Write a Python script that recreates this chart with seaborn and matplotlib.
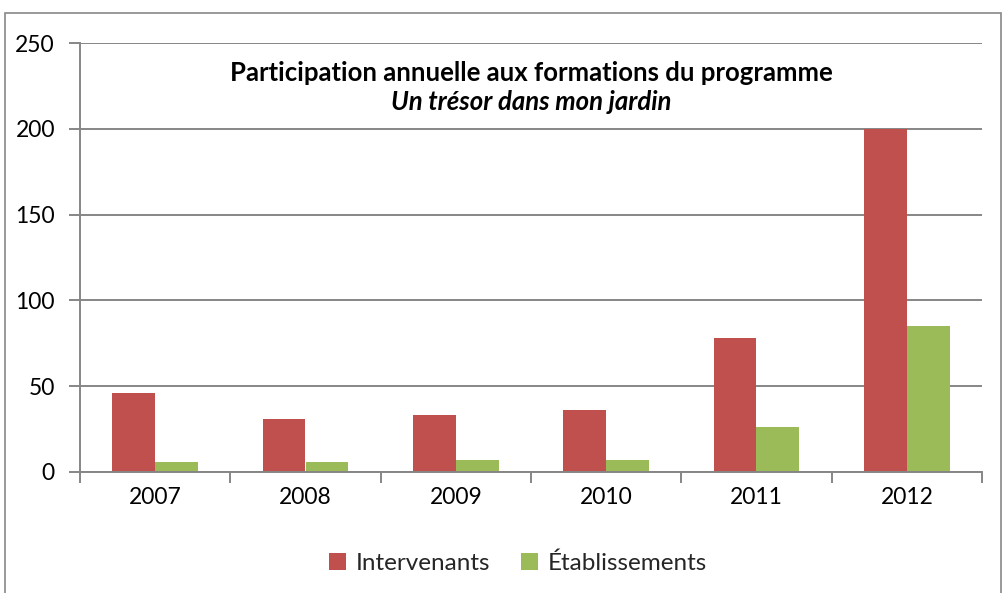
import matplotlib
matplotlib.use("Agg")
import matplotlib.pyplot as plt
from matplotlib.patches import Rectangle, Patch
import seaborn as sns
import pandas as pd

years = ["2007", "2008", "2009", "2010", "2011", "2012"]
intervenants = [46, 31, 33, 36, 78, 200]
etablissements = [6, 6, 7, 7, 26, 85]
series_names = ["Intervenants", "Établissements"]
colors = ["#C0504D", "#9BBB59"]
title1 = "Participation annuelle aux formations du programme"
title2 = "Un trésor dans mon jardin"

df = pd.DataFrame({
    "Année": years * 2,
    "Valeur": intervenants + etablissements,
    "Série": [series_names[0]] * len(years) + [series_names[1]] * len(years),
})

sns.set_theme(style="white")
plt.rcParams["font.family"] = ["Lato", "DejaVu Sans"]

W, H = 1006, 593
fig = plt.figure(figsize=(W / 100, H / 100), dpi=100)
ax = fig.add_axes([80 / W, 1 - 472 / H, (982 - 80) / W, (472 - 43) / H])

sns.barplot(data=df, x="Année", y="Valeur", hue="Série", order=years,
            hue_order=series_names, palette=colors, width=0.57,
            saturation=1, edgecolor="none", ax=ax, legend=False)

grid_c = "#868686"
ax.set_ylim(0, 250)
ax.set_xlim(-0.5, len(years) - 0.5)
ax.set_yticks([0, 50, 100, 150, 200, 250])
ax.yaxis.grid(True, color=grid_c, linewidth=1.4)
ax.set_axisbelow(True)
for s in ["top", "right"]:
    ax.spines[s].set_visible(False)
for s in ["left", "bottom"]:
    ax.spines[s].set_color(grid_c)
    ax.spines[s].set_linewidth(1.4)
ax.set_xlabel("")
ax.set_ylabel("")
ax.tick_params(axis="y", which="major", length=8, width=1.4, color=grid_c,
               labelsize=16.5, pad=10, labelcolor="black", left=True)
ax.tick_params(axis="x", which="major", length=0, labelsize=16.5, pad=11, labelcolor="black")
ax.set_xticks([i - 0.5 for i in range(len(years) + 1)], minor=True)
ax.tick_params(axis="x", which="minor", length=8, width=1.4, color=grid_c, bottom=True)

ax.text(0.5, 0.93, title1, transform=ax.transAxes, ha="center", va="center",
        fontsize=18.5, fontweight="bold", color="black")
ax.text(0.5, 0.863, title2, transform=ax.transAxes, ha="center", va="center",
        fontsize=18.5, fontweight="bold", fontstyle="italic", color="black")

handles = [Patch(facecolor=c, edgecolor="none") for c in colors]
fig.legend(handles, series_names, loc="center", bbox_to_anchor=(518 / W, 1 - 563 / H),
           ncol=2, frameon=False, fontsize=17.5, handlelength=0.7, handleheight=0.7,
           handletextpad=0.4, columnspacing=1.3)

fig.patches.append(Rectangle((5 / W, -0.01), (1001 - 5) / W, 1 - 13 / H + 0.01,
                             transform=fig.transFigure, fill=False,
                             edgecolor="#878787", linewidth=1.2, zorder=-1))

fig.savefig("out.png", dpi=100)
